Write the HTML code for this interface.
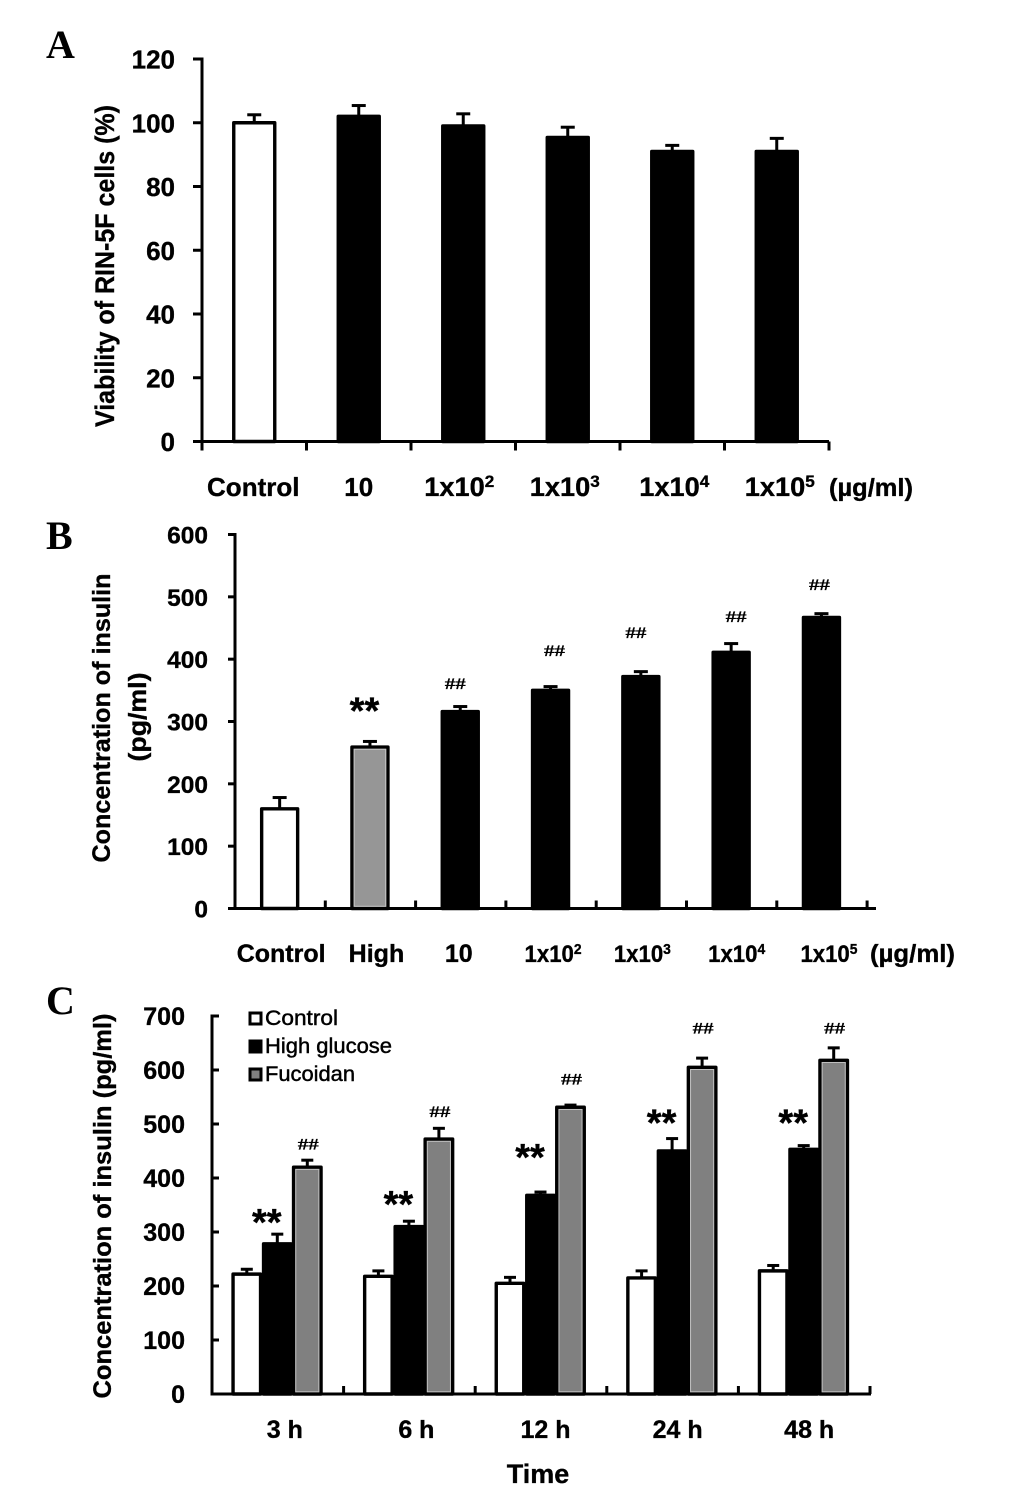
<!DOCTYPE html>
<html lang="en">
<head>
<meta charset="utf-8">
<title>Fucoidan effects on RIN-5F cells</title>
<style>
html,body{margin:0;padding:0;background:#fff;}
svg{display:block;}
text{font-family:"Liberation Sans",sans-serif;fill:#000;font-weight:bold;stroke:#000;stroke-width:.35px;}
.letter{font-family:"Liberation Serif",serif;font-size:40px;stroke:none;}
.legend-text{font-weight:normal;font-size:21px;stroke:#000;stroke-width:.45px;}
</style>
</head>
<body>
<svg id="figure" xmlns="http://www.w3.org/2000/svg" width="1033" height="1496" viewBox="0 0 1033 1496">
  <rect x="0" y="0" width="1033" height="1496" fill="#fff"/>

  <text class="letter" x="46" y="58">A</text>
  <text class="letter" x="46" y="549">B</text>
  <text class="letter" x="46" y="1014">C</text>

  <text transform="translate(114,266) rotate(-90)" text-anchor="middle" font-size="27" textLength="322" lengthAdjust="spacingAndGlyphs">Viability of RIN-5F cells (%)</text>
  <text x="829" y="496" font-size="25" textLength="84" lengthAdjust="spacingAndGlyphs">(µg/ml)</text>

  <text transform="translate(110,718) rotate(-90)" text-anchor="middle" font-size="25" textLength="289" lengthAdjust="spacingAndGlyphs">Concentration of insulin</text>
  <text transform="translate(146,717) rotate(-90)" text-anchor="middle" font-size="25" textLength="89" lengthAdjust="spacingAndGlyphs">(pg/ml)</text>
  <text x="870" y="962" font-size="25" textLength="85" lengthAdjust="spacingAndGlyphs">(µg/ml)</text>

  <text transform="translate(111,1206) rotate(-90)" text-anchor="middle" font-size="25" textLength="385" lengthAdjust="spacingAndGlyphs">Concentration of insulin (pg/ml)</text>
  <text x="538" y="1483" text-anchor="middle" font-size="27">Time</text>

  <g>
    <rect x="250" y="1013" width="11" height="11" fill="#fff" stroke="#000" stroke-width="3"/>
    <text class="legend-text" x="265" y="1025" textLength="73" lengthAdjust="spacingAndGlyphs">Control</text>
    <rect x="250" y="1041" width="11" height="11" fill="#000" stroke="#000" stroke-width="3"/>
    <text class="legend-text" x="265" y="1053" textLength="127" lengthAdjust="spacingAndGlyphs">High glucose</text>
    <rect x="250" y="1069" width="11" height="11" fill="#808080" stroke="#000" stroke-width="3"/>
    <text class="legend-text" x="265" y="1081" textLength="90" lengthAdjust="spacingAndGlyphs">Fucoidan</text>
  </g>
</svg>

<script>
// ---- Panel A data ----
const categoriesA = ['Control', '10', '1x10^2', '1x10^3', '1x10^4', '1x10^5'];
const valuesA = [100, 102, 99, 95.4, 91, 91];
const errorsA = [2.5, 3.4, 3.8, 3.2, 1.9, 4.1];
const tickLabelsA = [0, 20, 40, 60, 80, 100, 120];

// ---- Panel B data ----
const categoriesB = ['Control', 'High', '10', '1x10^2', '1x10^3', '1x10^4', '1x10^5'];
const valuesB = [160, 259, 316, 350, 372, 411, 467];
const errorsB = [18, 9, 8, 6, 8, 14, 6];
const tickLabelsB = [0, 100, 200, 300, 400, 500, 600];

// ---- Panel C data ----
const categoriesC = ['3 h', '6 h', '12 h', '24 h', '48 h'];
const controlValuesC = [222, 218, 205, 215, 228];
const controlErrorsC = [9, 10, 11, 13, 10];
const highGlucoseValuesC = [278, 310, 368, 450, 453];
const highGlucoseErrorsC = [18, 10, 6, 23, 7];
const fucoidanValuesC = [420, 472, 531, 605, 618];
const fucoidanErrorsC = [13, 20, 4, 17, 23];
const tickLabelsC = [0, 100, 200, 300, 400, 500, 600, 700];

// ---- Layout (not data) ----
const NS = 'http://www.w3.org/2000/svg';
const figure = document.getElementById('figure');
const panelA = {key: 'a', left: 202, right: 829, y0: 441.5, yTop: 59, max: 120, step: 104.5, tickDir: 'outer', labelRight: 175, tickFont: 26, tickBase: 9.5, catBase: 496, catFont: 26, supCatFont: 27, supTextLen: 70, labelNudge: [-1, 0, -4, -3, 2, 3], supDy: -9, supFont: 17, barW: 41, capW: 14, tickLen: 9};
const panelB = {key: 'b', left: 235, right: 876, y0: 908.5, yTop: 534.5, max: 600, step: 90.3, tickDir: 'inner', labelRight: 208, tickFont: 24.5, tickBase: 9, catBase: 962, catFont: 25, supCatFont: 24, supTextLen: 57, labelNudge: [1, 6, -2, 2, 1, 5, 7], supDy: -8, supFont: 15, barW: 36, capW: 14, tickLen: 7};
const panelC = {key: 'c', left: 212, right: 871, y0: 1394, yTop: 1016, max: 700, step: 131.6, tickDir: 'inner', labelRight: 185, tickFont: 25, tickBase: 9, catBase: 1438, catFont: 25, supCatFont: 25, supTextLen: 57, labelNudge: [7, 7, 4.5, 5, 5], supDy: 0, supFont: 13, barW: 27.5, capW: 12, tickLen: 7};

function mark(tag, name, attrs) {
  const el = document.createElementNS(NS, tag);
  
  
  Object.keys(attrs).forEach(function (k) { el.setAttribute(k, attrs[k]); });
  figure.appendChild(el);
  return el;
}
function yScale(p) {
  return function (v) { return p.y0 - v * (p.y0 - p.yTop) / p.max; };
}
function bandCenter(p, i) {
  return p.left + (i + 0.5) * p.step;
}
function line(name, x1, y1, x2, y2, w) {
  return mark('line', name, {x1: x1, y1: y1, x2: x2, y2: y2, stroke: '#000', 'stroke-width': w});
}
function drawAxes(p, ticks, count) {
  const y = yScale(p);
  const k = p.key;
  line('panel-' + k + '-y-axis', p.left, p.yTop - 1.5, p.left, p.y0 + 1.5, 3);
  line('panel-' + k + '-x-axis', p.tickDir === 'outer' ? p.left - 9 : (k === 'b' ? p.left - 7 : p.left), p.y0, p.right, p.y0, 3);
  ticks.forEach(function (t) {
    const yy = y(t);
    if (p.key === 'c') line('panel-' + k + '-y-tick-' + t, p.left, yy, p.left + p.tickLen, yy, 3);
    else line('panel-' + k + '-y-tick-' + t, p.left - p.tickLen, yy, p.left, yy, 3);
    const label = mark('text', 'panel-' + k + '-y-tick-label-' + t, {x: p.labelRight, y: yy + p.tickBase, 'text-anchor': 'end', 'font-size': p.tickFont});
    label.textContent = String(t);
  });
  for (let i = 0; i <= count; i++) {
    const xx = p.left + i * p.step;
    if (p.tickDir === 'outer') line('panel-' + k + '-x-tick-' + i, xx, p.y0, xx, p.y0 + 9, 3);
    else if (i > 0) line('panel-' + k + '-x-tick-' + i, xx, p.y0, xx, p.y0 - 8, 3);
  }
}
function drawCategoryLabels(p, cats) {
  cats.forEach(function (c, i) {
    const parts = c.split('^');
    const size = parts.length > 1 ? p.supCatFont : p.catFont;
    const label = mark('text', 'panel-' + p.key + '-category-label-' + i, {x: bandCenter(p, i) + p.labelNudge[i], y: p.catBase, 'text-anchor': 'middle', 'font-size': size});
    label.textContent = parts[0];
    if (parts.length > 1) {
      label.setAttribute('textLength', p.supTextLen);
      label.setAttribute('lengthAdjust', 'spacingAndGlyphs');
      const sup = document.createElementNS(NS, 'tspan');
      
      
      sup.setAttribute('dy', p.supDy);
      sup.setAttribute('font-size', p.supFont);
      sup.textContent = parts[1];
      label.appendChild(sup);
    }
  });
}
function drawBar(p, name, cx, value, err, fill, inner) {
  const y = yScale(p);
  const top = y(value);
  const errTop = y(value + err);
  line(name + '-error-stem', cx, errTop, cx, top, 3);
  line(name + '-error-cap', cx - p.capW / 2, errTop, cx + p.capW / 2, errTop, 3);
  mark('rect', name, {x: cx - p.barW / 2, y: top, width: p.barW, height: p.y0 - top, fill: fill, stroke: '#000', 'stroke-width': 3.4, 'stroke-linejoin': 'round'});
  if (inner) {
    mark('rect', name + '-inner-highlight', {x: cx - p.barW / 2 + 2.2, y: top + 2.2, width: p.barW - 4.4, height: p.y0 - top - 4.4, fill: 'none', stroke: inner, 'stroke-width': 1});
  }
}
function drawHash(name, x, yCenter) {
  const t = mark('text', name, {x: x, y: yCenter + 5.5, 'text-anchor': 'middle', 'font-size': 16, textLength: 21, lengthAdjust: 'spacingAndGlyphs'});
  t.style.fontFamily = '"Liberation Serif",serif';
  t.style.strokeWidth = '0.2px';
  t.textContent = '##';
}
function drawStars(name, x, yCenter) {
  const t = mark('text', name, {x: x, y: yCenter + 17, 'text-anchor': 'middle', 'font-size': 38});
  t.textContent = '**';
}

// Panel A
drawAxes(panelA, tickLabelsA, categoriesA.length);
drawCategoryLabels(panelA, categoriesA);
valuesA.forEach(function (v, i) {
  drawBar(panelA, 'panel-a-bar-' + i, bandCenter(panelA, i), v, errorsA[i], i === 0 ? '#fff' : '#000', null);
});

// Panel B
const hashGapB = [23, 36, 39, 27, 29];
const hashShiftB = [-5, 4, -5, 5, -2];
drawAxes(panelB, tickLabelsB, categoriesB.length);
drawCategoryLabels(panelB, categoriesB);
const yB = yScale(panelB);
valuesB.forEach(function (v, i) {
  const cx = bandCenter(panelB, i) - 0.5;
  const fill = i === 0 ? '#fff' : (i === 1 ? '#969696' : '#000');
  drawBar(panelB, 'panel-b-bar-' + i, cx, v, errorsB[i], fill, i === 1 ? '#c8c8c8' : null);
  if (i === 1) drawStars('panel-b-significance-stars', cx - 5.5, yB(v + errorsB[i]) - 35);
  if (i >= 2) drawHash('panel-b-significance-hash-' + i, cx + hashShiftB[i - 2], yB(v + errorsB[i]) - hashGapB[i - 2]);
});

// Panel C
const starGapC = [16, 21, 39, 20, 27];
const hashGapC = [16, 17, 26, 30, 20];
drawAxes(panelC, tickLabelsC, categoriesC.length);
drawCategoryLabels(panelC, categoriesC);
const yC = yScale(panelC);
categoriesC.forEach(function (c, i) {
  const cx = bandCenter(panelC, i) - 0.5;
  const g = 'panel-c-group-' + i;
  drawBar(panelC, g + '-control-bar', cx - 30.5, controlValuesC[i], controlErrorsC[i], '#fff', null);
  drawBar(panelC, g + '-fucoidan-bar', cx + 30, fucoidanValuesC[i], fucoidanErrorsC[i], '#808080', '#c0c0c0');
  drawBar(panelC, g + '-high-glucose-bar', cx, highGlucoseValuesC[i], highGlucoseErrorsC[i], '#000', null);
  drawStars(g + '-significance-stars', cx - 10.5, yC(highGlucoseValuesC[i] + highGlucoseErrorsC[i]) - starGapC[i]);
  drawHash(g + '-significance-hash', cx + 31, yC(fucoidanValuesC[i] + fucoidanErrorsC[i]) - hashGapC[i]);
});
</script>
</body>
</html>
